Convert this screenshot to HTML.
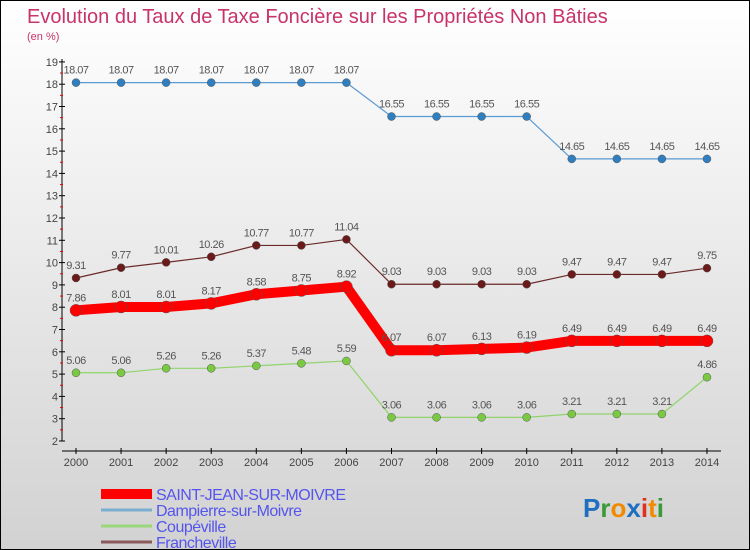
<!DOCTYPE html>
<html><head><meta charset="utf-8"><style>
body{margin:0}
#c{width:750px;height:550px;position:relative;background:linear-gradient(#fff,#d2d2d2);border:1px solid #000;box-sizing:border-box;overflow:hidden;font-family:"Liberation Sans",sans-serif}
</style></head><body>
<div id="c">
<svg id="s" width="750" height="550">
<text x="26" y="22" font-size="20" fill="#c8336a">Evolution du Taux de Taxe Foncière sur les Propriétés Non Bâties</text>
<text x="26" y="39" font-size="11" fill="#c8336a">(en %)</text>
<g id="axes"></g><g id="series"></g><g id="legend"></g>
<text x="582" y="516" font-size="26" font-weight="bold"><tspan fill="#1e6fc0">P</tspan><tspan fill="#3a9a3a">r</tspan><tspan fill="#f28a00">o</tspan><tspan fill="#1e6fc0">x</tspan><tspan fill="#e03020">i</tspan><tspan fill="#f28a00">t</tspan><tspan fill="#3a9a3a">i</tspan></text>
</svg></div>
<script>
const years=[2000,2001,2002,2003,2004,2005,2006,2007,2008,2009,2010,2011,2012,2013,2014];
const saint=[7.86,8.01,8.01,8.17,8.58,8.75,8.92,6.07,6.07,6.13,6.19,6.49,6.49,6.49,6.49];
const dampierre=[18.07,18.07,18.07,18.07,18.07,18.07,18.07,16.55,16.55,16.55,16.55,14.65,14.65,14.65,14.65];
const coupeville=[5.06,5.06,5.26,5.26,5.37,5.48,5.59,3.06,3.06,3.06,3.06,3.21,3.21,3.21,4.86];
const francheville=[9.31,9.77,10.01,10.26,10.77,10.77,11.04,9.03,9.03,9.03,9.03,9.47,9.47,9.47,9.75];
const yTicks=[2,3,4,5,6,7,8,9,10,11,12,13,14,15,16,17,18,19];
const names=["SAINT-JEAN-SUR-MOIVRE","Dampierre-sur-Moivre","Coupéville","Francheville"];
const NS="http://www.w3.org/2000/svg";
const X=i=>75+i*45.07, Y=v=>440-(v-2)*22.3;
function mk(t,a,p){const e=document.createElementNS(NS,t);for(const k in a)e.setAttribute(k,a[k]);p.appendChild(e);return e;}
const ax=document.getElementById('axes');
let e=mk('line',{x1:61,y1:58,x2:61,y2:440,stroke:'#000'},ax);


yTicks.forEach(v=>{mk('line',{x1:58,x2:64,y1:Y(v),y2:Y(v),stroke:'#000'},ax);
 if(v<19)mk('line',{x1:59,x2:62,y1:Y(v+0.5),y2:Y(v+0.5),stroke:'#e00'},ax);
 const t=mk('text',{x:57,y:Y(v)+4,'font-size':11,fill:'#444','text-anchor':'end'},ax);t.textContent=v;
 
 });
e=mk('line',{x1:61,y1:450,x2:720,y2:450,stroke:'#000'},ax);


years.forEach((y,i)=>{mk('line',{x1:X(i),x2:X(i),y1:447,y2:453,stroke:'#000'},ax);
 const t=mk('text',{x:X(i),y:465,'font-size':11,fill:'#444','text-anchor':'middle'},ax);t.textContent=y;
 
 });
const sg=document.getElementById('series');
function draw(d,col,w,r,dotc,name){
 const g=mk('g',{},sg);
 
 
 mk('polyline',{points:d.map((v,i)=>X(i)+','+Y(v)).join(' '),fill:'none',stroke:col,'stroke-width':w,'stroke-linejoin':'round'},g);
 d.forEach((v,i)=>{const c=mk('circle',{cx:X(i),cy:Y(v),r:r,fill:dotc,stroke:'#555','stroke-width':0.5},g);
  
  
  const t=mk('text',{x:X(i),y:Y(v)-9,'font-size':11,fill:'#555','text-anchor':'middle','letter-spacing':'-0.5'},g);t.textContent=v;
  
  });
}
draw(dampierre,'#5b9bd5',1.2,4,'#2f7fc0','series-dampierre');
draw(francheville,'#6b2a2a',1.2,4,'#6b1a1a','series-francheville');
draw(coupeville,'#8fd46a',1.2,4,'#7ac943','series-coupeville');
draw(saint,'#f00',10,6,'#f00','series-saint-jean');
const lg=document.getElementById('legend');
const cols=['#f00','#7aaed0','#9ad67a','#8a5a5a'],ws=[10,3,3,3];
names.forEach((n,i)=>{const y=493+i*16;
 const l=mk('line',{x1:100,x2:151,y1:y,y2:y,stroke:cols[i],'stroke-width':ws[i]},lg);
 
 
 const t=mk('text',{x:155,y:y+6,'font-size':16,fill:'#5555ee','letter-spacing':'-0.5'},lg);t.textContent=n;
 
 });
</script></body></html>
